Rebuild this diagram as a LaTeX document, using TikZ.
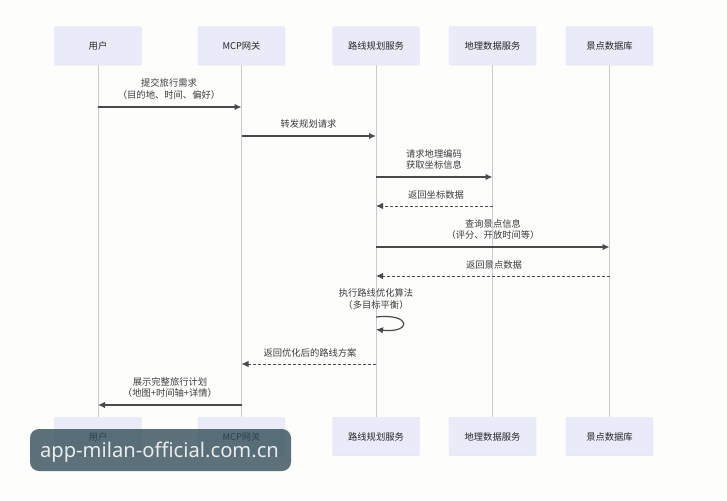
\documentclass[tikz,border=0pt]{standalone}
\usepackage{fontspec}
\setmainfont{Noto Sans CJK SC}
\newfontfamily\wmfont{Noto Sans}
\usetikzlibrary{arrows.meta}
\definecolor{pagebg}{HTML}{FDFDFC}
\definecolor{boxfill}{HTML}{E9EBF8}
\definecolor{boxline}{HTML}{E2E4F1}
\definecolor{lifecol}{HTML}{CACBD0}
\definecolor{msgcol}{HTML}{4A4A4A}
\definecolor{txtcol}{HTML}{3C3C3C}
\definecolor{wmcol}{HTML}{2F4A55}
\tikzset{
  x=1pt,y=-1pt,
  actor/.style={draw=boxline,fill=boxfill,rounded corners=1.5pt,minimum width=87pt,minimum height=38.5pt,inner sep=0pt,text=black!85,font=\fontsize{9.3}{10}\selectfont},
  life/.style={draw=lifecol,line width=1pt},
  msg/.style={draw=msgcol,line width=1.2pt,-{Latex[length=7pt,width=6.5pt]}},
  ret/.style={msg,line width=1pt,densely dashed},
  lab/.style={text=txtcol,align=center,inner sep=0pt,font=\fontsize{9.3}{11.2}\selectfont},
}
\begin{document}
\begin{tikzpicture}
\useasboundingbox[fill=pagebg] (0,0) rectangle (727,500);
\foreach \nm/\cx/\txt in {u/98/用户,g/241.5/MCP网关,r/376/路线规划服务,d/492.5/地理数据服务,s/609.5/景点数据库}{
  \node[actor] (\nm T) at (\cx,46) {\txt};
  \node[actor] (\nm B) at (\cx,436.5) {\txt};
}
\foreach \nm in {u,g,r,d,s}{ \draw[life] (\nm T) -- (\nm B); }
% message end points on the lifelines
\foreach \nm/\a/\b/\yy in {u/g/m1/107,g/r/m2/136,r/d/m3/177,d/r/m4/206,r/s/m5/247,s/r/m6/276,r/g/m8/364,g/u/m9/405}{
  \coordinate (\b a) at (\nm T.south |- 0,\yy);
  \coordinate (\b b) at (\a T.south |- 0,\yy);
}
\coordinate (m7a) at (rT.south |- 0,317);
\coordinate (m7b) at (rT.south |- 0,329.5);
\draw[msg] (m1a) -- (m1b);
\draw[msg] (m2a) -- (m2b);
\draw[msg] (m3a) -- (m3b);
\draw[ret] (m4a) -- (m4b);
\draw[msg] (m5a) -- (m5b);
\draw[ret] (m6a) -- (m6b);
\draw[msg] (m7a) .. controls +(36,-4) and +(36,4) .. (m7b);
\draw[ret] (m8a) -- (m8b);
\draw[msg] (m9a) -- (m9b);
\node[lab] (l1) at (169,89) {提交旅行需求\\（目的地、时间、偏好）};
\node[lab] (l2) at (308.5,124) {转发规划请求};
\node[lab] (l3) at (434,159.5) {请求地理编码\\获取坐标信息};
\node[lab] (l4) at (436,194.5) {返回坐标数据};
\node[lab] (l5) at (493,229.5) {查询景点信息\\（评分、开放时间等）};
\node[lab] (l6) at (494,264.5) {返回景点数据};
\node[lab] (l7) at (376,299) {执行路线优化算法\\（多目标平衡）};
\node[lab] (l8) at (310,352.5) {返回优化后的路线方案};
\node[lab] (l9) at (170,387.5) {展示完整旅行计划\\（地图+时间轴+详情）};
\fill[wmcol,fill opacity=0.78,rounded corners=9pt] (30,429) rectangle (291,471);
\node[text=white!92!black,inner sep=0pt,font=\wmfont\fontsize{20.2}{24}\selectfont] (wm) at (159.5,452.5) {app-milan-official.com.cn};
\end{tikzpicture}
\end{document}
